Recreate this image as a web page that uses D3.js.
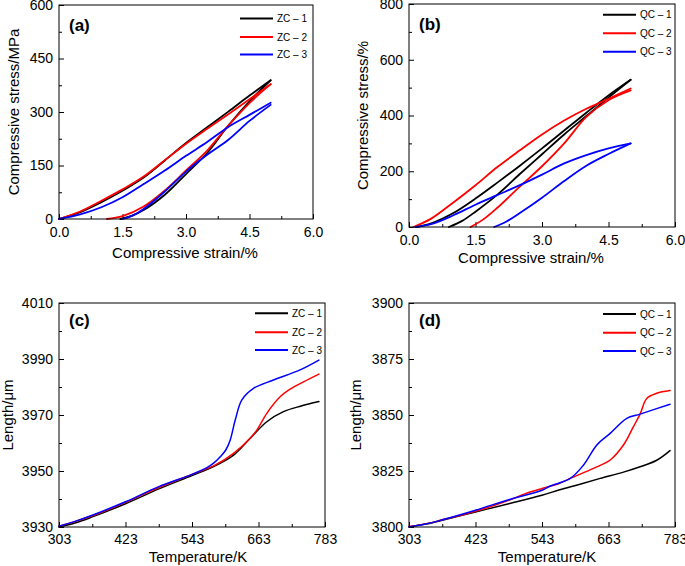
<!DOCTYPE html>
<html>
<head>
<meta charset="utf-8">
<script src="https://cdn.jsdelivr.net/npm/d3@7/dist/d3.min.js"></script>
<style>
  html, body { margin: 0; padding: 0; background: #fff; }
  svg { display: block; font-family: "Liberation Sans", Arial, Helvetica, sans-serif; }
</style>
</head>
<body>
<svg id="chart" width="685" height="566"></svg>
<script>
// ---------------- DATA ----------------
// Panel (a): compressive stress (MPa) vs strain (%) — ZC samples
const zcSeries = ["ZC \u2013 1", "ZC \u2013 2", "ZC \u2013 3"];
const zc1LoadStrain = [0, 0.5, 1.0, 1.5, 2.0, 2.5, 3.0, 3.5, 4.0, 4.5, 5.0];
const zc1Load       = [0, 19, 47, 79, 116, 164, 213, 257, 301, 346, 389];
const zc1UnloadStrain = [5.0, 4.5, 4.0, 3.5, 3.0, 2.5, 2.0, 1.7, 1.45];
const zc1Unload       = [389, 330, 262, 185, 126, 68, 25, 8, 0];
const zc2LoadStrain = [0, 0.5, 1.0, 1.5, 2.0, 2.5, 3.0, 3.5, 4.0, 4.5, 5.0];
const zc2Load       = [0, 21, 51, 83, 119, 165, 211, 253, 294, 336, 378];
const zc2UnloadStrain = [5.0, 4.5, 4.0, 3.5, 3.0, 2.5, 2.0, 1.5, 1.13];
const zc2Unload       = [378, 325, 262, 192, 136, 80, 35, 8, 0];
const zc3LoadStrain = [0, 0.5, 1.0, 1.5, 2.0, 2.5, 3.0, 3.5, 4.0, 4.5, 5.0];
const zc3Load       = [0, 13, 33, 61, 98, 136, 177, 216, 258, 292, 326];
const zc3UnloadStrain = [5.0, 4.5, 4.0, 3.5, 3.0, 2.5, 2.0, 1.75, 1.5];
const zc3Unload       = [320, 275, 222, 180, 133, 77, 28, 10, 0];

// Panel (b): QC samples
const qcSeries = ["QC \u2013 1", "QC \u2013 2", "QC \u2013 3"];
const qc1LoadStrain = [0.17, 0.5, 1.0, 1.5, 2.0, 2.5, 3.0, 3.5, 4.0, 4.5, 5.0];
const qc1Load       = [0, 13, 50, 102, 160, 220, 282, 346, 410, 472, 528];
const qc1UnloadStrain = [5.0, 4.5, 4.0, 3.5, 3.0, 2.5, 2.0, 1.5, 1.2, 0.9];
const qc1Unload       = [528, 464, 398, 332, 261, 190, 117, 55, 22, 0];
const qc2LoadStrain = [0.1, 0.5, 1.0, 1.5, 2.0, 2.5, 3.0, 3.5, 4.0, 4.5, 5.0];
const qc2Load       = [0, 30, 88, 150, 216, 275, 332, 382, 424, 460, 497];
const qc2UnloadStrain = [5.0, 4.5, 4.0, 3.5, 3.0, 2.5, 2.0, 1.7, 1.39];
const qc2Unload       = [490, 455, 395, 300, 218, 145, 70, 30, 0];
const qc3LoadStrain = [0.14, 0.5, 1.0, 1.5, 2.0, 2.5, 3.0, 3.5, 4.0, 4.5, 5.0];
const qc3Load       = [0, 10, 42, 80, 115, 150, 188, 228, 258, 282, 300];
const qc3UnloadStrain = [5.0, 4.5, 4.0, 3.5, 3.0, 2.5, 2.2, 1.92];
const qc3Unload       = [300, 262, 220, 165, 105, 50, 20, 0];

// Panel (c): length (µm) vs temperature (K) — ZC samples
const zc1Temp = [303, 333, 363, 423, 483, 543, 583, 618, 648, 678, 708, 740, 772];
const zc1Len  = [3930.0, 3931.5, 3933.6, 3938.3, 3943.6, 3948.4, 3951.7, 3955.7, 3961.7, 3967.6, 3971.2, 3973.2, 3974.8];
const zc2Temp = [303, 333, 363, 423, 483, 543, 583, 618, 648, 660, 678, 702, 720, 745, 772];
const zc2Len  = [3930.3, 3932.0, 3934.0, 3938.8, 3944.1, 3948.8, 3951.9, 3956.3, 3961.7, 3964.6, 3970.6, 3976.5, 3979.2, 3981.9, 3984.6];
const zc3Temp = [303, 333, 363, 423, 483, 543, 570, 582, 594, 604, 612, 621, 633, 654, 690, 738, 772];
const zc3Len  = [3930.3, 3932.1, 3934.2, 3939.0, 3944.4, 3948.8, 3951.2, 3952.8, 3955.1, 3957.5, 3961.1, 3968.2, 3975.4, 3979.5, 3982.5, 3986.1, 3989.6];

// Panel (d): QC samples
const qc1Temp = [303, 333, 363, 423, 483, 543, 575, 610, 648, 690, 720, 750, 774];
const qc1Len  = [3800.0, 3801.3, 3803.0, 3806.7, 3810.4, 3814.2, 3816.6, 3819.0, 3821.7, 3824.5, 3826.9, 3829.8, 3834.1];
const qc2Temp = [303, 333, 363, 423, 483, 513, 543, 573, 594, 636, 666, 690, 708, 720, 732, 750, 774];
const qc2Len  = [3800.2, 3801.4, 3803.2, 3807.0, 3811.9, 3814.9, 3817.2, 3819.3, 3821.7, 3826.2, 3829.9, 3836.6, 3844.8, 3850.4, 3857.4, 3859.7, 3860.9];
const qc3Temp = [303, 333, 363, 423, 483, 543, 557, 594, 618, 642, 666, 696, 720, 774];
const qc3Len  = [3800.0, 3801.3, 3803.2, 3807.5, 3812.2, 3816.4, 3818.2, 3821.7, 3827.7, 3836.6, 3841.8, 3848.5, 3850.4, 3854.8];

// Ticks
const strainTicks = [0, 1.5, 3.0, 4.5, 6.0];
const strainTickLabels = ["0.0", "1.5", "3.0", "4.5", "6.0"];
const stressTicksA = [0, 150, 300, 450, 600];
const stressTicksB = [0, 200, 400, 600, 800];
const tempTicks = [303, 423, 543, 663, 783];
const lenTicksC = [3930, 3950, 3970, 3990, 4010];
const lenTicksD = [3800, 3825, 3850, 3875, 3900];

const colors = ["#000000", "#ff0000", "#0000ff"];

// ---------------- DRAWING ----------------
const svg = d3.select("#chart");
const FONT = "\"Liberation Sans\", Arial, Helvetica, sans-serif";

function zip(xs, ys) { return xs.map((x, i) => [x, ys[i]]); }
function minorTicks(major) {
  const out = [];
  for (let i = 0; i < major.length - 1; i++) out.push((major[i] + major[i + 1]) / 2);
  return out;
}

function drawPanel(cfg) {
  const g = svg.append("g");
  const x = d3.scaleLinear().domain(cfg.xDomain).range([cfg.x0, cfg.x1]);
  const y = d3.scaleLinear().domain(cfg.yDomain).range([cfg.y1, cfg.y0]);

  // minor ticks
  g.append("g").attr("transform", `translate(0,${cfg.y1})`)
    .call(d3.axisBottom(x).tickValues(minorTicks(cfg.xTicks)).tickFormat("").tickSize(-3))
    .call(a => a.select(".domain").remove());
  g.append("g").attr("transform", `translate(${cfg.x0},0)`)
    .call(d3.axisLeft(y).tickValues(minorTicks(cfg.yTicks)).tickFormat("").tickSize(-3))
    .call(a => a.select(".domain").remove());

  // major ticks
  const xa = g.append("g").attr("transform", `translate(0,${cfg.y1})`)
    .call(d3.axisBottom(x).tickValues(cfg.xTicks)
      .tickFormat((d, i) => cfg.xTickLabels[i]).tickSize(-5).tickPadding(cfg.xPad));
  xa.select(".domain").remove();
  xa.selectAll("text").attr("font-size", 14).attr("font-family", FONT).attr("fill", "#000");

  const ya = g.append("g").attr("transform", `translate(${cfg.x0},0)`)
    .call(d3.axisLeft(y).tickValues(cfg.yTicks).tickFormat(d => String(d)).tickSize(-5).tickPadding(6));
  ya.select(".domain").remove();
  ya.selectAll("text").attr("font-size", 14).attr("font-family", FONT).attr("fill", "#000");

  g.selectAll(".tick line").attr("stroke", "#000").attr("stroke-width", 1);

  // curves
  const line = d3.line().x(d => x(d[0])).y(d => y(d[1])).curve(d3.curveCatmullRom.alpha(0.5));
  cfg.series.forEach((s, i) => {
    s.forEach(seg => {
      g.append("path").attr("d", line(seg)).attr("fill", "none")
        .attr("stroke", colors[i]).attr("stroke-width", cfg.lw)
        .attr("stroke-linejoin", "round").attr("stroke-linecap", "round");
    });
  });

  // frame
  g.append("rect").attr("x", cfg.x0).attr("y", cfg.y0)
    .attr("width", cfg.x1 - cfg.x0).attr("height", cfg.y1 - cfg.y0)
    .attr("fill", "none").attr("stroke", "#000").attr("stroke-width", 1);

  // panel letter
  g.append("text").attr("x", cfg.x0 + 10).attr("y", cfg.labelY).text(cfg.label)
    .attr("font-size", 17).attr("font-weight", "bold").attr("font-family", FONT);

  // legend
  cfg.legendNames.forEach((name, i) => {
    const ly = cfg.legendY[i];
    g.append("line").attr("x1", cfg.legendX).attr("x2", cfg.legendX + 33)
      .attr("y1", ly).attr("y2", ly).attr("stroke", colors[i]).attr("stroke-width", 2);
    g.append("text").attr("x", cfg.legendX + 37).attr("y", ly).attr("dy", "0.35em")
      .attr("font-size", 10).attr("font-family", FONT).text(name);
  });

  // axis titles
  g.append("text").attr("x", cfg.xTitleX).attr("y", cfg.xTitleY).attr("text-anchor", "middle")
    .attr("font-size", 15).attr("font-family", FONT).text(cfg.xTitle);
  g.append("text").attr("transform", `translate(${cfg.yTitleX},${(cfg.y0 + cfg.y1) / 2}) rotate(-90)`)
    .attr("text-anchor", "middle").attr("font-size", 15).attr("font-family", FONT).text(cfg.yTitle);
}

drawPanel({
  x0: 59, x1: 313, y0: 5, y1: 219,
  xDomain: [0, 6], yDomain: [0, 600],
  xTicks: strainTicks, xTickLabels: strainTickLabels, yTicks: stressTicksA, xPad: 8,
  series: [
    [zip(zc1LoadStrain, zc1Load), zip(zc1UnloadStrain, zc1Unload)],
    [zip(zc2LoadStrain, zc2Load), zip(zc2UnloadStrain, zc2Unload)],
    [zip(zc3LoadStrain, zc3Load), zip(zc3UnloadStrain, zc3Unload)]
  ],
  lw: 1.8, label: "(a)", labelY: 31,
  legendNames: zcSeries, legendX: 240, legendY: [18.5, 37, 54.5],
  xTitle: "Compressive strain/%", xTitleX: 185, xTitleY: 258,
  yTitle: "Compressive stress/MPa", yTitleX: 19
});

drawPanel({
  x0: 409, x1: 675, y0: 4, y1: 227,
  xDomain: [0, 6], yDomain: [0, 800],
  xTicks: strainTicks, xTickLabels: strainTickLabels, yTicks: stressTicksB, xPad: 8,
  series: [
    [zip(qc1LoadStrain, qc1Load), zip(qc1UnloadStrain, qc1Unload)],
    [zip(qc2LoadStrain, qc2Load), zip(qc2UnloadStrain, qc2Unload)],
    [zip(qc3LoadStrain, qc3Load), zip(qc3UnloadStrain, qc3Unload)]
  ],
  lw: 1.8, label: "(b)", labelY: 30,
  legendNames: qcSeries, legendX: 603, legendY: [14.7, 33.3, 51.7],
  xTitle: "Compressive strain/%", xTitleX: 531, xTitleY: 263,
  yTitle: "Compressive stress/%", yTitleX: 368
});

drawPanel({
  x0: 59, x1: 325, y0: 303, y1: 527,
  xDomain: [303, 783], yDomain: [3930, 4010],
  xTicks: tempTicks, xTickLabels: tempTicks.map(String), yTicks: lenTicksC, xPad: 7,
  series: [[zip(zc1Temp, zc1Len)], [zip(zc2Temp, zc2Len)], [zip(zc3Temp, zc3Len)]],
  lw: 1.5, label: "(c)", labelY: 326,
  legendNames: zcSeries, legendX: 255, legendY: [313.3, 332.3, 350],
  xTitle: "Temperature/K", xTitleX: 198, xTitleY: 562,
  yTitle: "Length/\u03bcm", yTitleX: 13
});

drawPanel({
  x0: 409, x1: 675, y0: 303, y1: 527,
  xDomain: [303, 783], yDomain: [3800, 3900],
  xTicks: tempTicks, xTickLabels: tempTicks.map(String), yTicks: lenTicksD, xPad: 7,
  series: [[zip(qc1Temp, qc1Len)], [zip(qc2Temp, qc2Len)], [zip(qc3Temp, qc3Len)]],
  lw: 1.5, label: "(d)", labelY: 326,
  legendNames: qcSeries, legendX: 603, legendY: [314, 332.7, 351],
  xTitle: "Temperature/K", xTitleX: 547, xTitleY: 562,
  yTitle: "Length/\u03bcm", yTitleX: 361
});
</script>
</body>
</html>
